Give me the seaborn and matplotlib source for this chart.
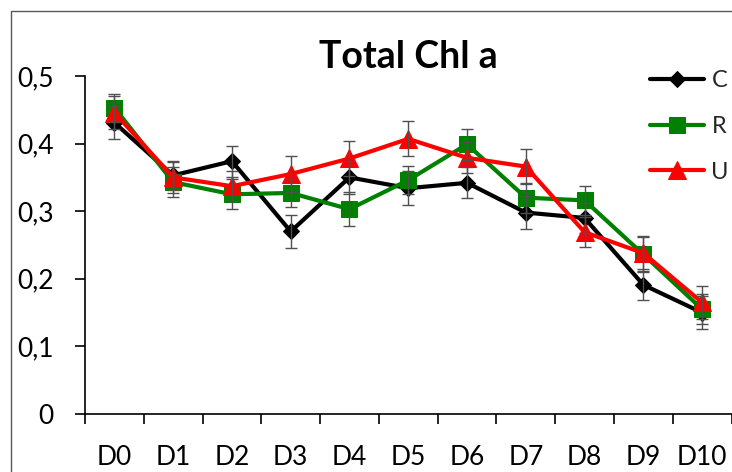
import matplotlib
matplotlib.use("Agg")
import matplotlib.pyplot as plt
import matplotlib.patches as mpatches
import seaborn as sns
import pandas as pd
import numpy as np

days = ["D0", "D1", "D2", "D3", "D4", "D5", "D6", "D7", "D8", "D9", "D10"]
c_vals = [0.431, 0.353, 0.374, 0.270, 0.350, 0.334, 0.342, 0.298, 0.290, 0.191, 0.150]
r_vals = [0.453, 0.343, 0.325, 0.327, 0.303, 0.346, 0.399, 0.320, 0.316, 0.236, 0.155]
u_vals = [0.446, 0.350, 0.337, 0.355, 0.378, 0.407, 0.379, 0.366, 0.269, 0.238, 0.165]
c_err = [0.024, 0.022, 0.023, 0.025, 0.025, 0.025, 0.023, 0.024, 0.022, 0.023, 0.024]
r_err = [0.021, 0.022, 0.022, 0.021, 0.025, 0.021, 0.023, 0.022, 0.022, 0.026, 0.022]
u_err = [0.025, 0.023, 0.022, 0.026, 0.026, 0.026, 0.023, 0.026, 0.022, 0.026, 0.025]
series = ["C", "R", "U"]
title = "Total Chl a"
y_ticks = [0.0, 0.1, 0.2, 0.3, 0.4, 0.5]
y_labels = ["0", "0,1", "0,2", "0,3", "0,4", "0,5"]

colors = {"C": "#000000", "R": "#008000", "U": "#ff0000"}
markers = {"C": "D", "R": "s", "U": "^"}
msizes = {"C": 8.5, "R": 11, "U": 12.5}

df = pd.DataFrame({
    "day": days * 3,
    "value": c_vals + r_vals + u_vals,
    "err": c_err + r_err + u_err,
    "series": ["C"] * len(days) + ["R"] * len(days) + ["U"] * len(days),
})

sns.set_theme(style="white")
plt.rcParams["font.family"] = ["Lato", "DejaVu Sans"]

fig = plt.figure(figsize=(7.32, 4.72), dpi=100)
W, H = 732, 472
ax = fig.add_axes([85 / W, 1 - 414 / H, (731.5 - 85) / W, (414 - 76) / H])

handles = []
for i, s in enumerate(series):
    sub = df[df["series"] == s]
    sns.lineplot(data=sub, x="day", y="value", ax=ax, color=colors[s],
                 marker=markers[s], markersize=msizes[s], markeredgecolor=colors[s],
                 linewidth=3, label=s, zorder=3 + i, sort=False)

xpos = np.arange(len(days))
for i, s in enumerate(series):
    sub = df[df["series"] == s]
    ax.errorbar(xpos, sub["value"].values, yerr=sub["err"].values, fmt="none",
                ecolor="#505050", elinewidth=1.0, capsize=4.5, capthick=1.0, zorder=10)

ax.set_xlim(-0.5, len(days) - 0.5)
ax.set_ylim(0, 0.5)
ax.set_xticks(xpos)
ax.set_xticklabels(days)
ax.set_xticks(np.arange(-0.5, len(days), 1.0), minor=True)
ax.set_yticks(y_ticks)
ax.set_yticklabels(y_labels)
ax.set_xlabel("")
ax.set_ylabel("")

ax.tick_params(axis="x", which="major", length=0, pad=22, labelsize=19, colors="black")
ax.tick_params(axis="x", which="minor", length=7.5, width=1.2, direction="out", color="black", bottom=True)
ax.tick_params(axis="y", which="major", length=7.5, width=1.2, direction="out", pad=15,
               labelsize=19, colors="black", left=True)

for side in ["top", "right"]:
    ax.spines[side].set_visible(False)
for side in ["left", "bottom"]:
    ax.spines[side].set_color("black")
    ax.spines[side].set_linewidth(1.2)

fig.text(408 / W, 1 - 57 / H, title, ha="center", va="center", fontsize=27,
         fontweight="bold", color="black")

leg = ax.legend(loc="upper left", bbox_to_anchor=(650 / W, 1 - 70 / H),
                bbox_transform=fig.transFigure, frameon=False, fontsize=17,
                handlelength=2.3, handletextpad=0.3, labelspacing=1.05,
                borderpad=0, borderaxespad=0)

border = mpatches.Rectangle((10.5 / W, -0.5), 2.0, (472 - 10.5) / H + 0.5,
                            transform=fig.transFigure, fill=False,
                            edgecolor="#595959", linewidth=1.0, zorder=0)
fig.patches.append(border)

fig.savefig("out.png", dpi=100)
